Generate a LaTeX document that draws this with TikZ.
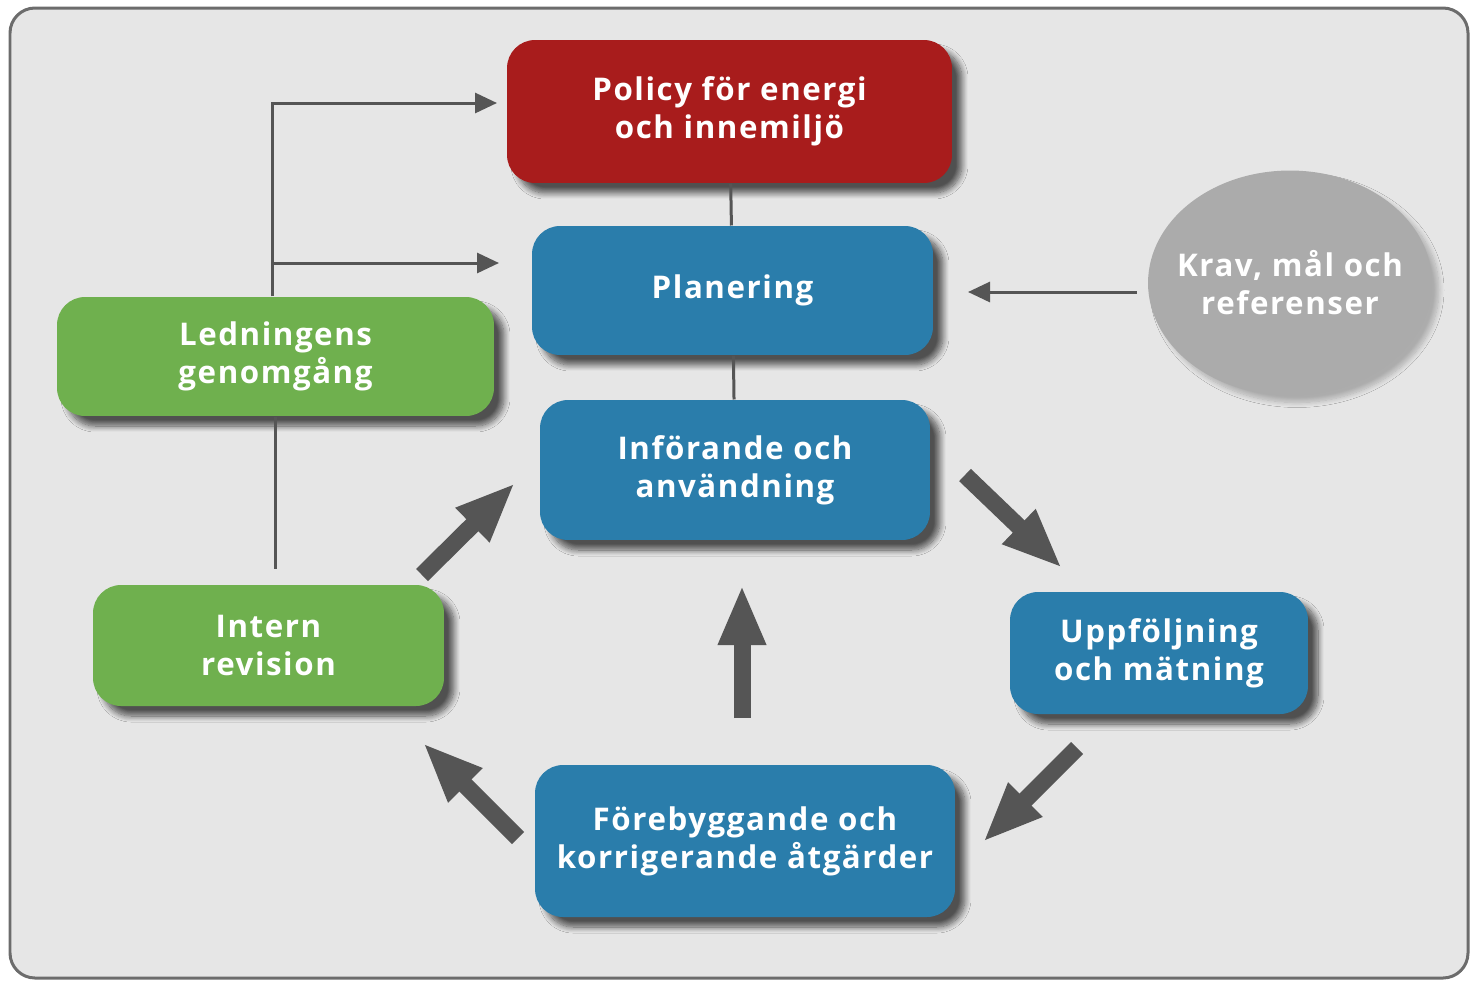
\documentclass[tikz,border=0pt]{standalone}
\usepackage{fontspec}
\setmainfont{Open Sans}
\newfontfamily\boxfont{Open Sans}[LetterSpace=5]
\usepackage{tikz}
\usetikzlibrary{shapes.geometric,arrows.meta,shadows.blur,calc}

\definecolor{bgcol}{HTML}{E6E6E6}
\definecolor{policyred}{HTML}{A81C1C}
\definecolor{planblue}{HTML}{2A7DAB}
\definecolor{ledgreen}{HTML}{6FB04E}
\definecolor{kravgray}{HTML}{ABABAB}
\definecolor{arrowgray}{HTML}{555555}

\begin{document}
\begin{tikzpicture}[x=0.02cm,y=-0.02cm,>={Triangle[length=0.44cm,width=0.4cm]},semithick]
\tikzstyle{box}=[rounded corners=0.56cm,text=white,align=center,inner sep=0pt,
  font=\boxfont\fontsize{17.8}{21.6}\selectfont\bfseries,
  blur shadow={shadow xshift=0.2cm,shadow yshift=-0.2cm,shadow opacity=65,shadow blur radius=0.12cm,shadow blur steps=10}]
\tikzstyle{kravtext}=[text=white,align=center,font=\boxfont\fontsize{17.8}{21.6}\selectfont\bfseries]
\tikzstyle{thinline}=[draw=arrowgray,line width=0.06cm]
\tikzstyle{fatarrow}=[draw=arrowgray,line width=0.34cm,-{Triangle[length=1.2cm,width=0.88cm]}]
\useasboundingbox (0,0) rectangle (1470,981);
% background panel
\draw[fill=bgcol,draw=gray!85!black,line width=0.06cm,rounded corners=0.5cm] (10,8) rectangle (1468,978);

\node[box,fill=policyred,minimum width=8.9cm,minimum height=2.86cm] (policy) at (729.5,111.5) {Policy för energi\\och innemiljö};
\node[box,fill=planblue,minimum width=8.02cm,minimum height=2.58cm] (plan) at (732.5,290.5) {Planering};
\node[box,fill=planblue,minimum width=7.8cm,minimum height=2.8cm] (infor) at (735,470) {Införande och\\användning};
\node[box,fill=ledgreen,minimum width=8.74cm,minimum height=2.38cm] (led) at (275.5,356.5) {Ledningens\\genomgång};
\node[box,fill=ledgreen,minimum width=7.02cm,minimum height=2.42cm] (intern) at (268.5,645.5) {Intern\\revision};
\node[box,fill=planblue,minimum width=5.96cm,minimum height=2.44cm] (uppf) at (1159,653) {Uppföljning\\och mätning};
\node[box,fill=planblue,minimum width=8.4cm,minimum height=3.04cm] (fore) at (745,841) {Förebyggande och\\korrigerande åtgärder};
\node[ellipse,fill=kravgray,inner sep=0pt,minimum width=5.68cm,minimum height=4.5cm,
  blur shadow={shadow xshift=0.14cm,shadow yshift=-0.14cm,shadow opacity=25,shadow blur radius=0.1cm,shadow blur steps=10},
  label={[kravtext]center:{Krav, mål och\\referenser}}] (krav) at (1290,283) {};

% free ends of the connectors
\coordinate (ledtop) at ($(led.north)+(-3,0)$);
\coordinate (policyin) at (497,103);
\coordinate (planin) at (499,263);
\coordinate (kravin) at (968,292);
\coordinate (a1s) at (422,575); \coordinate (a1e) at (515,483);
\coordinate (a2s) at (965,475); \coordinate (a2e) at (1062,568);
\coordinate (a3s) at (1077,748); \coordinate (a3e) at (983,842);
\coordinate (a4s) at (518,838); \coordinate (a4e) at (423,743);
\coordinate (a5s) at (742,718); \coordinate (a5e) at (742,585);

\draw[thinline] (policy) -- (plan);
\draw[thinline] (plan) -- (infor);
\draw[thinline,->] (ledtop) |- (policyin);
\draw[thinline,->] (ledtop |- planin) -- (planin);
\draw[thinline,shorten >=0.3cm] (led.south) -- (led.south |- intern.north);
\draw[thinline,->,shorten <=0.22cm] (krav.west |- kravin) -- (kravin);

\draw[fatarrow] (a1s) -- (a1e);
\draw[fatarrow] (a2s) -- (a2e);
\draw[fatarrow] (a3s) -- (a3e);
\draw[fatarrow] (a4s) -- (a4e);
\draw[fatarrow] (a5s) -- (a5e);
\end{tikzpicture}
\end{document}
